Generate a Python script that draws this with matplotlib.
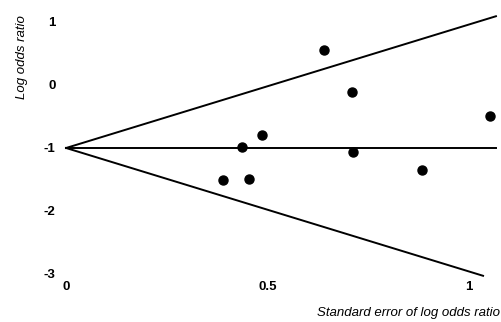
import matplotlib
matplotlib.use("Agg")
import matplotlib.pyplot as plt
from matplotlib import font_manager
import numpy as np

# study points
se = [0.39, 0.454, 0.437, 0.486, 0.64, 0.71, 0.712, 0.883, 1.052]
log_or = [-1.51, -1.49, -0.98, -0.79, 0.556, -0.11, -1.06, -1.35, -0.49]

pooled = -1.0
z = 1.96
upper_end = 1.067
lower_end = 1.035

xticks = [0, 0.5, 1]
xticklabels = ["0", "0.5", "1"]
yticks = [-3, -2, -1, 0, 1]
yticklabels = ["-3", "-2", "-1", "0", "1"]

names = {f.name for f in font_manager.fontManager.ttflist}
fam = "Liberation Sans Narrow" if "Liberation Sans Narrow" in names else "Liberation Sans"
plt.rcParams["font.family"] = [fam, "DejaVu Sans"]

fig = plt.figure(figsize=(5.02, 3.22), dpi=100)
ax = fig.add_axes([0, 0, 1, 1])
ax.set_xlim(-0.164, 1.082)
ax.set_ylim(-3.762, 1.349)
for s in ax.spines.values():
    s.set_visible(False)

# funnel
ax.plot([0, upper_end], [pooled, pooled + z * upper_end], color="black", lw=1.4)
ax.plot([0, lower_end], [pooled, pooled - z * lower_end], color="black", lw=1.4)
ax.plot([0, upper_end], [pooled, pooled], color="black", lw=1.4)

ax.plot(se, log_or, "o", color="black", ms=6.5, clip_on=False)

ax.set_xticks(xticks)
ax.set_xticklabels(xticklabels, fontsize=9.5, fontweight="bold")
ax.set_yticks(yticks)
ax.set_yticklabels(yticklabels, fontsize=9.5, fontweight="bold")
ax.tick_params(axis="both", length=0)
ax.tick_params(axis="y", pad=-40)
ax.tick_params(axis="x", pad=-29.5)

fig.text(22 / 502, 1 - 57 / 322, "Log odds ratio", rotation=90, ha="center",
         va="center", fontsize=9.5, style="italic")
fig.text(500 / 502, 1 - 313 / 322, "Standard error of log odds ratio", ha="right",
         va="center", fontsize=9.5, style="italic")

fig.savefig("out.png", dpi=100)
